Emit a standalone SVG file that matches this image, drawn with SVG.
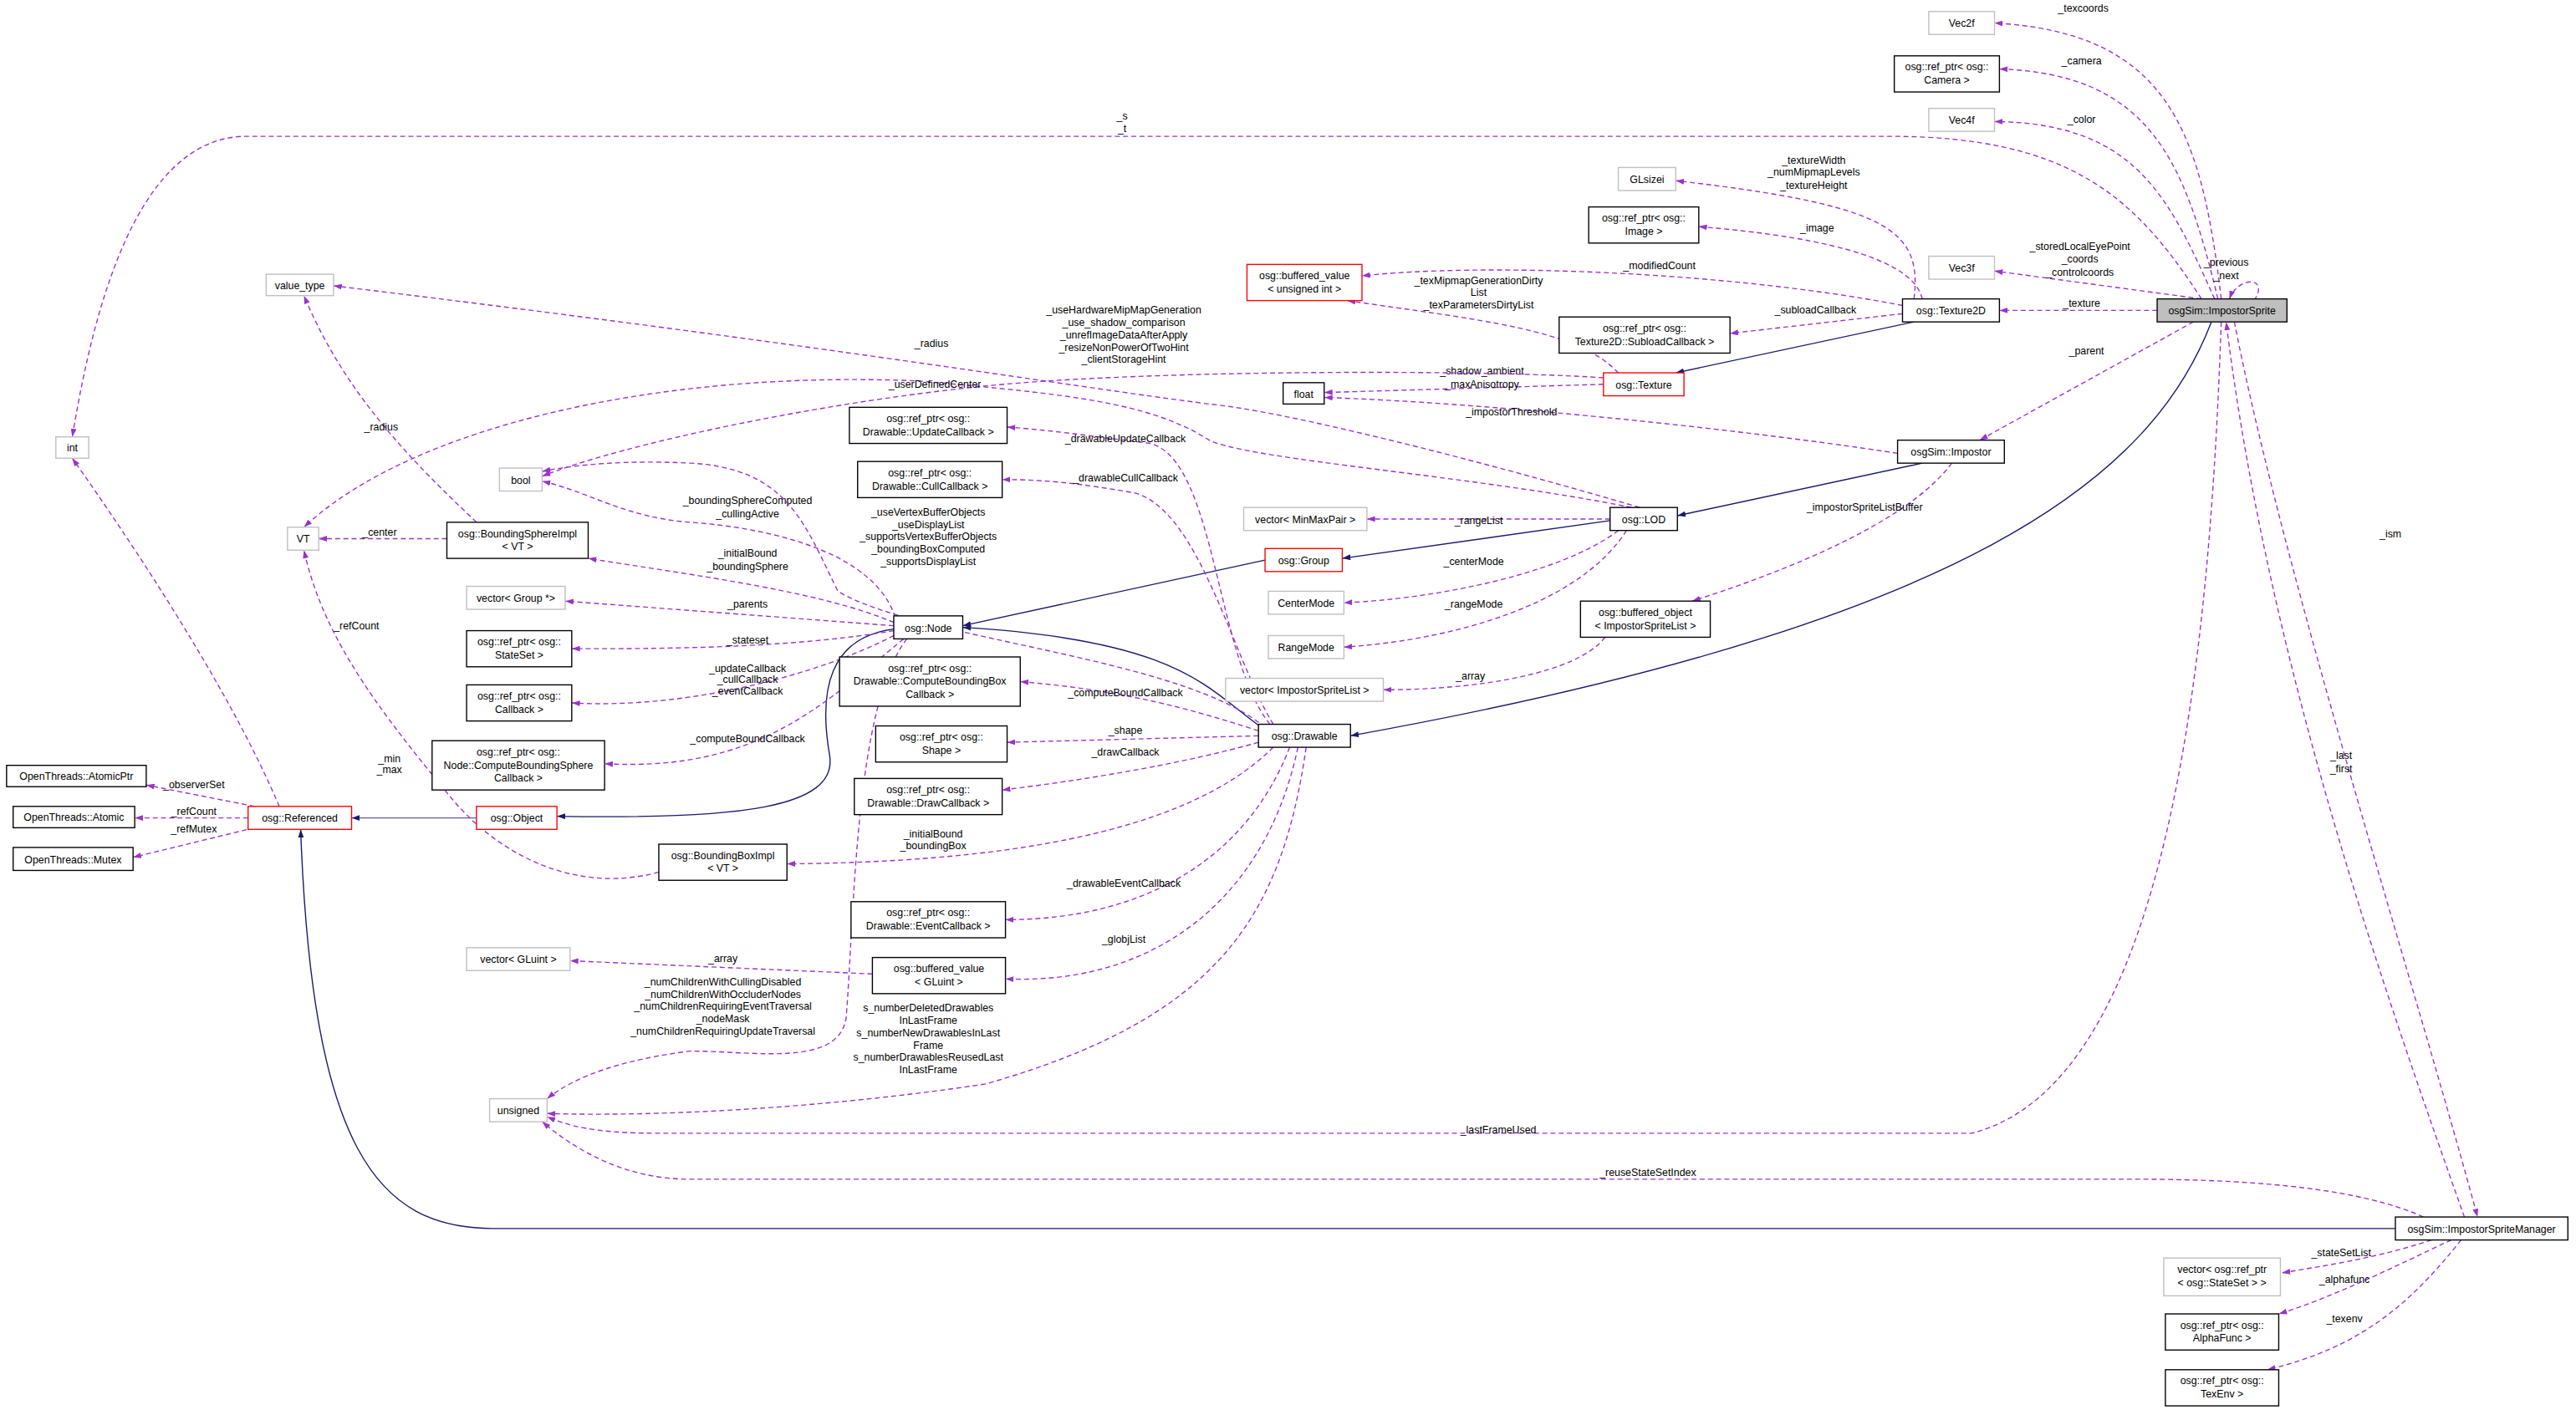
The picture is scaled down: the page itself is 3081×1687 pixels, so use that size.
<svg xmlns="http://www.w3.org/2000/svg" width="3081" height="1687" viewBox="0 0 3081 1687">
<style>
text{font-family:"Liberation Sans",Arial,sans-serif;font-size:6.3px;fill:#000;text-anchor:middle}
.n rect{fill:#fff;stroke:#000;stroke-width:0.7}
.g rect{fill:#fff;stroke:#bfbfbf;stroke-width:0.7}
.r rect{fill:#fff;stroke:#ff0000;stroke-width:0.7}
.s rect{fill:#bfbfbf;stroke:#000;stroke-width:0.7}
.i{fill:none;stroke:#191970;stroke-width:0.7;marker-end:url(#ai)}
.u{fill:none;stroke:#191970;stroke-width:0.7;stroke-opacity:0.7;marker-end:url(#ai)}
.d{fill:none;stroke:#9a32cd;stroke-width:0.7;stroke-dasharray:3,2;marker-end:url(#ad)}
</style>
<defs>
<marker id="ai" viewBox="0 0 10 7" refX="10" refY="3.5" markerWidth="5" markerHeight="3.5" markerUnits="userSpaceOnUse" orient="auto"><path d="M0,0L10,3.5L0,7z" fill="#191970"/></marker>
<marker id="ad" viewBox="0 0 10 7" refX="10" refY="3.5" markerWidth="5" markerHeight="3.5" markerUnits="userSpaceOnUse" orient="auto"><path d="M0,0L10,3.5L0,7z" fill="#9a32cd"/></marker>
</defs>
<rect width="3081" height="1687" fill="#fff"/>
<g transform="scale(1.965)">
<g id="edges">
<path class="i" d="M1165,196L1020,227"/>
<path class="i" d="M1346,196C1310,290 1200,380 822,448"/>
<path class="i" d="M1170,282L1021,314"/>
<path class="i" d="M980,317L817,340"/>
<path class="i" d="M770,341L586,381"/>
<path class="i" d="M768,443C735,420 720,390 586,382"/>
<path class="i" d="M544,383C505,388 498,420 505,460C510,492 450,499 339,497"/>
<path class="u" d="M290,498L214,498"/>
<path class="i" d="M1458,748L300,748C230,748 190,700 183,505"/>
<path class="d" d="M1352,182C1340,80 1320,20 1214,14"/><text x="1268" y="7">_texcoords</text>
<path class="d" d="M1350,182C1330,100 1310,45 1217,42"/><text x="1267" y="39">_camera</text>
<path class="d" d="M1348,182C1320,120 1300,75 1214,74"/><text x="1267" y="75">_color</text>
<path class="d" d="M1340,182C1300,120 1260,83 1150,83L150,83C80,83 55,200 44,266"/><text x="683" y="73">_s</text><text x="683" y="80.5">_t</text>
<path class="d" d="M1340,182L1214,165"/><text x="1266" y="152">_storedLocalEyePoint</text><text x="1266" y="160">_coords</text><text x="1266" y="168">_controlcoords</text>
<path class="d" d="M1313,189L1217,189"/><text x="1267" y="187">_texture</text>
<path class="d" d="M1372,183C1382,168 1362,168 1357,182"/><text x="1355" y="162">_previous</text><text x="1355" y="170">_next</text>
<path class="d" d="M1335,196L1205,268"/><text x="1270" y="216">_parent</text>
<path class="d" d="M1352,196C1345,400 1320,660 1200,690L400,690C360,690 345,685 333,680"/><text x="912" y="690">_lastFrameUsed</text>
<path class="d" d="M1475,741C1440,725 1380,718 1300,718L420,718C380,718 350,700 330,683"/><text x="1003" y="716">_reuseStateSetIndex</text>
<path class="d" d="M1360,196C1390,350 1470,600 1508,741"/><text x="1455" y="327">_ism</text>
<path class="d" d="M1500,741C1450,600 1380,400 1355,196"/><text x="1425" y="462">_last</text><text x="1425" y="470">_first</text>
<path class="d" d="M1480,755C1450,765 1420,770 1389,775"/><text x="1425" y="765">_stateSetList</text>
<path class="d" d="M1492,755C1460,770 1420,790 1387,800"/><text x="1427" y="781">_alphafunc</text>
<path class="d" d="M1498,755C1470,790 1440,820 1380,834"/><text x="1427" y="805">_texenv</text>
<path class="d" d="M1165,182C1170,140 1150,125 1020,110"/><text x="1104" y="100">_textureWidth</text><text x="1104" y="107">_numMipmapLevels</text><text x="1104" y="115">_textureHeight</text>
<path class="d" d="M1170,182C1165,160 1120,145 1034,138"/><text x="1106" y="141">_image</text>
<path class="d" d="M1158,186C1050,165 900,160 829,168"/><text x="1010" y="164">_modifiedCount</text>
<path class="d" d="M1158,191L1053,203"/><text x="1105" y="191">_subloadCallback</text>
<path class="d" d="M985,227C960,200 900,195 820,183"/><text x="900" y="173">_texMipmapGenerationDirty</text><text x="900" y="180">List</text><text x="900" y="188">_texParametersDirtyList</text>
<path class="d" d="M976,234L806,239"/><text x="902" y="228">_shadow_ambient</text><text x="902" y="236">_maxAnisotropy</text>
<path class="d" d="M976,230C900,225 700,225 600,235C500,245 380,270 330,290"/><text x="684" y="191">_useHardwareMipMapGeneration</text><text x="684" y="198.5">_use_shadow_comparison</text><text x="684" y="206">_unrefImageDataAfterApply</text><text x="684" y="213.5">_resizeNonPowerOfTwoHint</text><text x="684" y="221">_clientStorageHint</text>
<path class="d" d="M1155,276C1050,260 900,245 806,242"/><text x="920" y="253">_impostorThreshold</text>
<path class="d" d="M1188,282C1160,320 1080,350 1030,366"/><text x="1135" y="311">_impostorSpriteListBuffer</text>
<path class="d" d="M998,309C900,280 780,250 736,246C650,235 500,210 203,174"/><text x="567" y="211">_radius</text>
<path class="d" d="M993,309C900,290 760,280 736,268C700,245 650,240 560,232C400,225 250,260 185,321"/><text x="569" y="236">_userDefinedCenter</text>
<path class="d" d="M980,316L832,316"/><text x="900" y="319">_rangeList</text>
<path class="d" d="M985,323C950,350 870,365 818,367"/><text x="897" y="344">_centerMode</text>
<path class="d" d="M990,323C960,370 880,390 818,394"/><text x="897" y="370">_rangeMode</text>
<path class="d" d="M977,388C960,410 900,420 842,420"/><text x="895" y="414">_array</text>
<path class="d" d="M290,318C250,280 210,240 185,180"/><text x="232" y="262">_radius</text>
<path class="d" d="M272,328L194,328"/><text x="231" y="326">_center</text>
<path class="d" d="M545,376C530,330 450,320 420,318C380,315 360,300 330,293"/><text x="455" y="307">_boundingSphereComputed</text><text x="455" y="315">_cullingActive</text>
<path class="d" d="M544,379C500,360 420,350 358,340"/><text x="455" y="339">_initialBound</text><text x="455" y="347">_boundingSphere</text>
<path class="d" d="M544,381L344,366"/><text x="455" y="370">_parents</text>
<path class="d" d="M544,384C480,395 400,395 348,395"/><text x="455" y="392">_stateset</text>
<path class="d" d="M544,387C500,410 420,432 348,428"/><text x="455" y="409">_updateCallback</text><text x="455" y="416">_cullCallback</text><text x="455" y="423">_eventCallback</text>
<path class="d" d="M550,389C500,430 460,470 368,465"/><text x="455" y="452">_computeBoundCallback</text>
<path class="d" d="M552,389C520,430 520,560 515,620C510,650 460,640 420,640C380,645 350,655 333,669"/><text x="440" y="600">_numChildrenWithCullingDisabled</text><text x="440" y="607.5">_numChildrenWithOccluderNodes</text><text x="440" y="615">_numChildrenRequiringEventTraversal</text><text x="440" y="622.5">_nodeMask</text><text x="440" y="630">_numChildrenRequiringUpdateTraversal</text>
<path class="d" d="M770,443C720,400 560,390 510,360C490,320 480,285 420,282C380,280 350,283 330,287"/><text x="565" y="314">_useVertexBufferObjects</text><text x="565" y="321.5">_useDisplayList</text><text x="565" y="329">_supportsVertexBufferObjects</text><text x="565" y="336.5">_boundingBoxComputed</text><text x="565" y="344">_supportsDisplayList</text>
<path class="d" d="M773,441C740,400 740,280 700,270C660,265 640,262 613,260"/><text x="685" y="269">_drawableUpdateCallback</text>
<path class="d" d="M775,441C750,400 730,310 690,300C660,295 640,292 610,292"/><text x="685" y="293">_drawableCullCallback</text>
<path class="d" d="M766,445C720,430 680,420 621,415"/><text x="685" y="424">_computeBoundCallback</text>
<path class="d" d="M766,448L613,452"/><text x="685" y="447">_shape</text>
<path class="d" d="M766,452C720,465 660,475 610,481"/><text x="685" y="460">_drawCallback</text>
<path class="d" d="M775,455C720,510 600,525 479,526"/><text x="568" y="510">_initialBound</text><text x="568" y="517">_boundingBox</text>
<path class="d" d="M785,455C760,520 700,560 612,560"/><text x="684" y="540">_drawableEventCallback</text>
<path class="d" d="M790,455C770,550 700,600 612,596"/><text x="684" y="574">_globjList</text>
<path class="d" d="M795,455C780,560 740,620 600,660C500,675 400,680 333,678"/><text x="565" y="616">s_numberDeletedDrawables</text><text x="565" y="623.5">InLastFrame</text><text x="565" y="631">s_numberNewDrawablesInLast</text><text x="565" y="638.5">Frame</text><text x="565" y="646">s_numberDrawablesReusedLast</text><text x="565" y="653.5">InLastFrame</text>
<path class="d" d="M531,593L347,585"/><text x="440" y="586">_array</text>
<path class="d" d="M401,531C350,545 300,520 270,480C220,420 195,380 185,335"/><text x="237" y="464">_min</text><text x="237" y="471">_max</text>
<path class="d" d="M170,491C140,420 80,330 44,279"/><text x="217" y="383">_refCount</text>
<path class="d" d="M155,491L89,478"/><text x="118" y="480">_observerSet</text>
<path class="d" d="M151,498L82,498"/><text x="118" y="496">_refCount</text>
<path class="d" d="M155,504L81,522"/><text x="118" y="507">_refMutex</text>
</g>
<g id="ImpostorSprite" class="s"><rect x="1313" y="182" width="79" height="14"/><text x="1352.5" y="191.5">osgSim::ImpostorSprite</text></g>
<g id="Vec2f" class="g"><rect x="1174" y="7" width="40" height="14"/><text x="1194" y="16.5">Vec2f</text></g>
<g id="Camera" class="n"><rect x="1153" y="34" width="64" height="22"/><text x="1185" y="43">osg::ref_ptr&lt; osg::</text><text x="1185" y="51">Camera &gt;</text></g>
<g id="Vec4f" class="g"><rect x="1174" y="66" width="40" height="14"/><text x="1194" y="75.5">Vec4f</text></g>
<g id="GLsizei" class="g"><rect x="985" y="102" width="35" height="14"/><text x="1002.5" y="111.5">GLsizei</text></g>
<g id="Image" class="n"><rect x="967" y="126" width="67" height="22"/><text x="1000.5" y="135">osg::ref_ptr&lt; osg::</text><text x="1000.5" y="143">Image &gt;</text></g>
<g id="bufUInt" class="r"><rect x="759" y="161" width="70" height="22"/><text x="794" y="170">osg::buffered_value</text><text x="794" y="178">&lt; unsigned int &gt;</text></g>
<g id="Vec3f" class="g"><rect x="1174" y="156" width="40" height="14"/><text x="1194" y="165.5">Vec3f</text></g>
<g id="Texture2D" class="n"><rect x="1158" y="182" width="59" height="14"/><text x="1187.5" y="191.5">osg::Texture2D</text></g>
<g id="Subload" class="n"><rect x="949" y="193" width="104" height="22"/><text x="1001" y="202">osg::ref_ptr&lt; osg::</text><text x="1001" y="210">Texture2D::SubloadCallback &gt;</text></g>
<g id="value_type" class="g"><rect x="162" y="167" width="41" height="13"/><text x="182.5" y="176">value_type</text></g>
<g id="Texture" class="r"><rect x="976" y="227" width="49" height="14"/><text x="1000.5" y="236.5">osg::Texture</text></g>
<g id="float" class="n"><rect x="781" y="233" width="25" height="13"/><text x="793.5" y="242">float</text></g>
<g id="int" class="g"><rect x="34" y="266" width="20" height="13"/><text x="44" y="275">int</text></g>
<g id="Impostor" class="n"><rect x="1155" y="268" width="65" height="14"/><text x="1187.5" y="277.5">osgSim::Impostor</text></g>
<g id="bool" class="g"><rect x="304" y="285" width="26" height="14"/><text x="317" y="294.5">bool</text></g>
<g id="UpdateCB" class="n"><rect x="517" y="248" width="96" height="22"/><text x="565" y="257">osg::ref_ptr&lt; osg::</text><text x="565" y="265">Drawable::UpdateCallback &gt;</text></g>
<g id="CullCB" class="n"><rect x="522" y="281" width="88" height="22"/><text x="566" y="290">osg::ref_ptr&lt; osg::</text><text x="566" y="298">Drawable::CullCallback &gt;</text></g>
<g id="MinMax" class="g"><rect x="757" y="309" width="75" height="14"/><text x="794.5" y="318.5">vector&lt; MinMaxPair &gt;</text></g>
<g id="LOD" class="n"><rect x="980" y="309" width="41" height="14"/><text x="1000.5" y="318.5">osg::LOD</text></g>
<g id="VT" class="g"><rect x="175" y="321" width="19" height="14"/><text x="184.5" y="330.5">VT</text></g>
<g id="BSphere" class="n"><rect x="272" y="318" width="86" height="22"/><text x="315" y="327">osg::BoundingSphereImpl</text><text x="315" y="335">&lt; VT &gt;</text></g>
<g id="Group" class="r"><rect x="770" y="334" width="47" height="14"/><text x="793.5" y="343.5">osg::Group</text></g>
<g id="VecGroup" class="g"><rect x="284" y="357" width="60" height="14"/><text x="314" y="366.5">vector&lt; Group *&gt;</text></g>
<g id="CenterMode" class="g"><rect x="772" y="360" width="46" height="14"/><text x="795" y="369.5">CenterMode</text></g>
<g id="bufObj" class="n"><rect x="962" y="366" width="79" height="22"/><text x="1001.5" y="375">osg::buffered_object</text><text x="1001.5" y="383">&lt; ImpostorSpriteList &gt;</text></g>
<g id="Node" class="n"><rect x="544" y="375" width="42" height="14"/><text x="565" y="384.5">osg::Node</text></g>
<g id="StateSet" class="n"><rect x="284" y="384" width="64" height="22"/><text x="316" y="393">osg::ref_ptr&lt; osg::</text><text x="316" y="401">StateSet &gt;</text></g>
<g id="RangeMode" class="g"><rect x="772" y="387" width="46" height="14"/><text x="795" y="396.5">RangeMode</text></g>
<g id="CBBox" class="n"><rect x="511" y="400" width="110" height="30"/><text x="566" y="409">osg::ref_ptr&lt; osg::</text><text x="566" y="417">Drawable::ComputeBoundingBox</text><text x="566" y="425">Callback &gt;</text></g>
<g id="VecISL" class="g"><rect x="746" y="413" width="96" height="14"/><text x="794" y="422.5">vector&lt; ImpostorSpriteList &gt;</text></g>
<g id="Callback" class="n"><rect x="284" y="417" width="64" height="22"/><text x="316" y="426">osg::ref_ptr&lt; osg::</text><text x="316" y="434">Callback &gt;</text></g>
<g id="Drawable" class="n"><rect x="766" y="441" width="56" height="14"/><text x="794" y="450.5">osg::Drawable</text></g>
<g id="Shape" class="n"><rect x="533" y="442" width="80" height="22"/><text x="573" y="451">osg::ref_ptr&lt; osg::</text><text x="573" y="459">Shape &gt;</text></g>
<g id="CBSphere" class="n"><rect x="263" y="451" width="105" height="30"/><text x="315.5" y="460">osg::ref_ptr&lt; osg::</text><text x="315.5" y="468">Node::ComputeBoundingSphere</text><text x="315.5" y="476">Callback &gt;</text></g>
<g id="AtomicPtr" class="n"><rect x="4" y="466" width="85" height="13"/><text x="46.5" y="475">OpenThreads::AtomicPtr</text></g>
<g id="DrawCB" class="n"><rect x="520" y="474" width="90" height="22"/><text x="565" y="483">osg::ref_ptr&lt; osg::</text><text x="565" y="491">Drawable::DrawCallback &gt;</text></g>
<g id="Atomic" class="n"><rect x="8" y="491" width="74" height="13"/><text x="45" y="500">OpenThreads::Atomic</text></g>
<g id="Referenced" class="r"><rect x="151" y="491" width="63" height="14"/><text x="182.5" y="500.5">osg::Referenced</text></g>
<g id="Object" class="r"><rect x="290" y="491" width="49" height="14"/><text x="314.5" y="500.5">osg::Object</text></g>
<g id="Mutex" class="n"><rect x="8" y="516" width="73" height="14"/><text x="44.5" y="525.5">OpenThreads::Mutex</text></g>
<g id="BBox" class="n"><rect x="401" y="514" width="78" height="22"/><text x="440" y="523">osg::BoundingBoxImpl</text><text x="440" y="531">&lt; VT &gt;</text></g>
<g id="EventCB" class="n"><rect x="518" y="549" width="94" height="22"/><text x="565" y="558">osg::ref_ptr&lt; osg::</text><text x="565" y="566">Drawable::EventCallback &gt;</text></g>
<g id="VecGLuint" class="g"><rect x="284" y="577" width="63" height="14"/><text x="315.5" y="586.5">vector&lt; GLuint &gt;</text></g>
<g id="bufGLuint" class="n"><rect x="531" y="583" width="81" height="22"/><text x="571.5" y="592">osg::buffered_value</text><text x="571.5" y="600">&lt; GLuint &gt;</text></g>
<g id="unsigned" class="g"><rect x="298" y="669" width="35" height="14"/><text x="315.5" y="678.5">unsigned</text></g>
<g id="ISManager" class="n"><rect x="1458" y="741" width="105" height="14"/><text x="1510.5" y="750.5">osgSim::ImpostorSpriteManager</text></g>
<g id="VecSS" class="g"><rect x="1317" y="766" width="71" height="23"/><text x="1352.5" y="775">vector&lt; osg::ref_ptr</text><text x="1352.5" y="783">&lt; osg::StateSet &gt; &gt;</text></g>
<g id="AlphaFunc" class="n"><rect x="1318" y="800" width="69" height="22"/><text x="1352.5" y="809">osg::ref_ptr&lt; osg::</text><text x="1352.5" y="817">AlphaFunc &gt;</text></g>
<g id="TexEnv" class="n"><rect x="1318" y="834" width="69" height="22"/><text x="1352.5" y="843">osg::ref_ptr&lt; osg::</text><text x="1352.5" y="851">TexEnv &gt;</text></g>
</g>
</svg>
